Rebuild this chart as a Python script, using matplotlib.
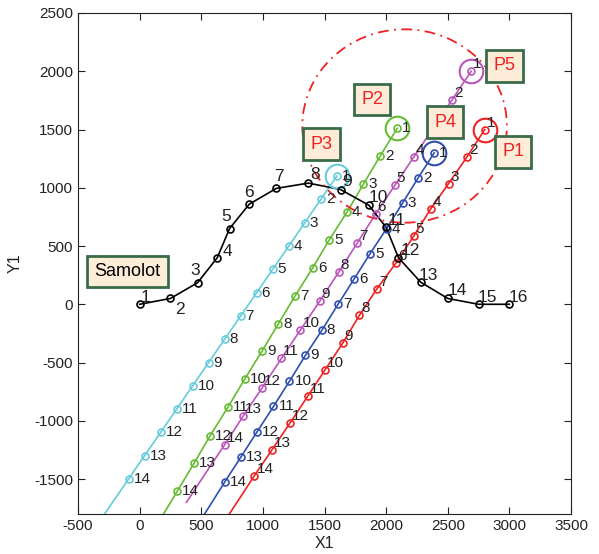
import matplotlib.pyplot as plt
from matplotlib.patches import Circle

# aircraft path ("Samolot"), 16 points
plane_x = [0, 250, 470, 630, 730, 890, 1110, 1370, 1630, 1860, 2000, 2100, 2280, 2500, 2750, 3000]
plane_y = [0, 50, 185, 400, 650, 860, 995, 1040, 985, 850, 660, 400, 190, 50, 0, 0]

# missile paths, 14 marked points + 2 tail points
p1_x = [2800, 2656, 2507, 2364, 2223, 2080, 1926, 1783, 1648, 1505, 1364, 1221, 1075, 932, 790, 647]
p1_y = [1500, 1265, 1036, 822, 584, 354, 134, -95, -333, -562, -789, -1018, -1247, -1470, -1700, -1930]
p2_x = [2090, 1950, 1815, 1683, 1540, 1405, 1260, 1126, 991, 851, 716, 573, 441, 305, 168, 30]
p2_y = [1510, 1270, 1030, 792, 555, 314, 70, -167, -405, -645, -884, -1127, -1365, -1605, -1845, -2085]
p3_x = [1600, 1470, 1340, 1210, 1080, 950, 820, 690, 560, 430, 300, 170, 40, -90, -220, -350]
p3_y = [1100, 900, 700, 500, 300, 100, -100, -300, -500, -700, -900, -1100, -1300, -1500, -1700, -1900]
p4_x = [2390, 2260, 2134, 2004, 1870, 1742, 1610, 1478, 1345, 1216, 1086, 951, 824, 689, 560, 430]
p4_y = [1300, 1085, 870, 650, 435, 220, 0, -224, -439, -660, -877, -1098, -1307, -1528, -1745, -1960]
p5_x = [2690, 2535, 2380, 2225, 2070, 1915, 1765, 1615, 1460, 1305, 1150, 995, 840, 690, 535, 380]
p5_y = [2000, 1755, 1510, 1265, 1020, 775, 525, 275, 25, -220, -465, -715, -960, -1205, -1450, -1700]
n_marked = 14

# danger zone circle
zone_center = (2150, 1530)
zone_radius = 830

# box labels
box_names = ["Samolot", "P3", "P2", "P4", "P5", "P1"]
box_x = [-100, 1475, 1887, 2478, 2960, 3031]
box_y = [283, 1374, 1759, 1563, 2047, 1308]

plt.rcParams['font.family'] = ['Liberation Sans', 'DejaVu Sans']
plt.rcParams['axes.unicode_minus'] = False

fig = plt.figure(figsize=(5.99, 5.54), dpi=100)
ax = fig.add_axes([78 / 599, 1 - 514 / 554, (571 - 78) / 599, (514 - 13) / 554])

missiles = [
    (p1_x, p1_y, "#ee2222", (2, 7)),
    (p2_x, p2_y, "#66bb33", (5, 0)),
    (p3_x, p3_y, "#66ccdd", (5, 0)),
    (p4_x, p4_y, "#3050b0", (5, 0)),
    (p5_x, p5_y, "#bb55bb", (2, 7)),
]
for xs, ys, col, off in missiles:
    ax.plot(xs, ys, color=col, lw=1.2, zorder=2)
    ax.plot(xs[:n_marked], ys[:n_marked], "o", color=col, mfc="none", ms=5, mew=1.2, zorder=3)
    ax.plot(xs[0], ys[0], "o", color=col, mfc="none", ms=17, mew=1.5, zorder=3)
    for i in range(n_marked):
        ax.annotate(str(i + 1), (xs[i], ys[i]), xytext=off, textcoords="offset pixels",
                    ha="left", va="center", fontsize=11, color="#222222", zorder=4)

# aircraft
ax.plot(plane_x, plane_y, "-", color="black", lw=1.2, zorder=2)
ax.plot(plane_x, plane_y, "o", color="black", mfc="none", ms=5, mew=1.2, zorder=3)
plane_off = [(6, 7), (9, -11), (-2, 12), (10, 6), (-3, 12), (0, 12), (3, 12), (7, 9),
             (6, 8), (9, 8), (11, 7), (12, 7), (8, 7), (10, 8), (9, 7), (9, 7)]
for i in range(len(plane_x)):
    ax.annotate(str(i + 1), (plane_x[i], plane_y[i]), xytext=plane_off[i], textcoords="offset pixels",
                ha="center", va="center", fontsize=12.5, color="#222222", zorder=4)

ax.add_patch(Circle(zone_center, zone_radius, fill=False, ec="#ee2222", lw=1.3,
                    ls=(0, (6, 3, 1, 3)), zorder=2))

for name, bx, by in zip(box_names, box_x, box_y):
    tcol = "black" if name == "Samolot" else "#ee2222"
    ax.text(bx, by, name, ha="center", va="center", fontsize=13, color=tcol, zorder=5,
            bbox=dict(boxstyle="square,pad=0.4", fc="#fdedd8", ec="#3a6b4a", lw=2))

ax.set_xlim(-500, 3500)
ax.set_ylim(-1800, 2500)
ax.set_xticks(range(-500, 3501, 500))
ax.set_yticks(range(-1500, 2501, 500))
ax.tick_params(direction="in", length=5, top=True, right=True, labelsize=11, colors="#222222")
ax.set_xlabel("X1", fontsize=11.5, color="#222222", labelpad=2)
ax.set_ylabel("Y1", fontsize=11.5, color="#222222", labelpad=8)
for s in ax.spines.values():
    s.set_color("#222222")

fig.savefig("out.png", dpi=100)
